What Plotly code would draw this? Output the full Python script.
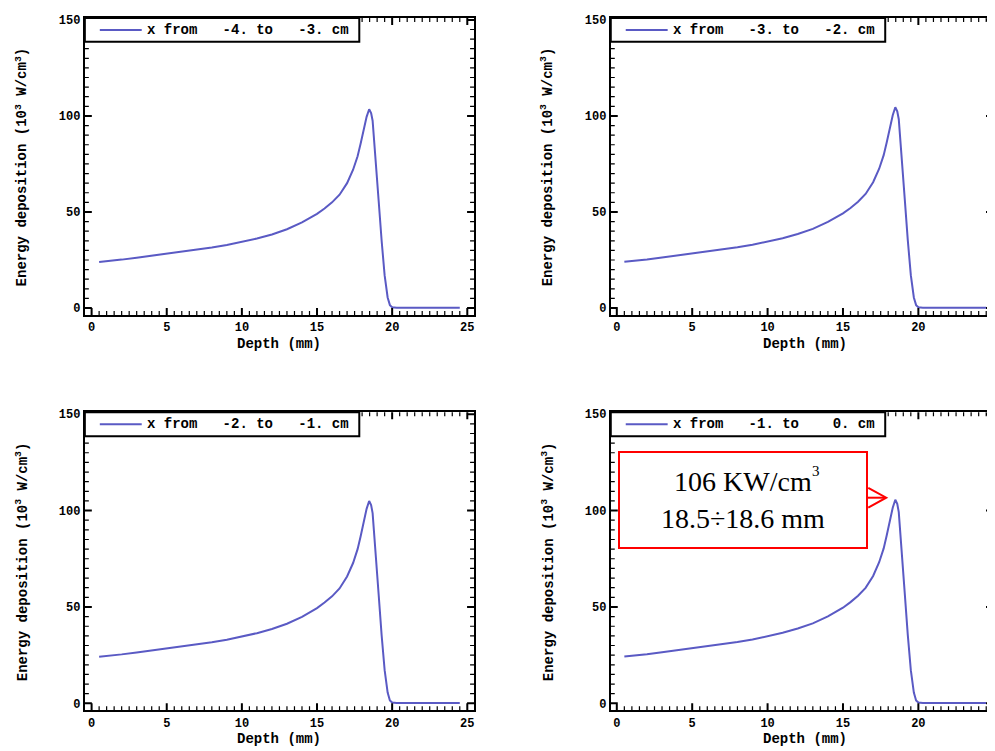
import math
import plotly.graph_objects as go

VIEW_W, VIEW_H = 995, 751
OFF = 8                      # default page body margin
W, H = VIEW_W - OFF, VIEW_H - OFF

depth_mm = [0.5, 1, 2, 3, 4, 5, 6, 7, 8, 9, 10, 11, 12, 13, 14, 15, 15.5, 16, 16.5, 17,
            17.4, 17.7, 17.9, 18.1, 18.3, 18.47, 18.6, 18.7, 18.9, 19.1, 19.3, 19.5, 19.7,
            19.85, 20.0, 20.3, 21, 22, 23, 24, 24.5]

energy_m4_m3 = [24.0, 24.3, 25.2, 26.2, 27.2, 28.2, 29.3, 30.4, 31.5, 32.8, 34.4, 36.2, 38.3,
                41.0, 44.6, 49.0, 51.8, 55.0, 59.0, 65.0, 72.0, 79.0, 85.5, 93.0, 99.5, 103.5,
                101.5, 97.5, 79.0, 56.0, 35.0, 17.0, 5.5, 1.5, 0.4, 0.2, 0.2, 0.2, 0.2, 0.2, 0.2]
energy_m3_m2 = [24.1, 24.4, 25.3, 26.3, 27.3, 28.3, 29.4, 30.5, 31.6, 32.9, 34.5, 36.3, 38.5,
                41.2, 44.8, 49.3, 52.1, 55.3, 59.4, 65.5, 72.5, 79.6, 86.2, 93.8, 100.4, 104.5,
                102.4, 98.3, 79.6, 56.4, 35.2, 17.1, 5.5, 1.5, 0.4, 0.2, 0.2, 0.2, 0.2, 0.2, 0.2]
energy_m2_m1 = [24.2, 24.5, 25.4, 26.4, 27.4, 28.4, 29.5, 30.6, 31.7, 33.0, 34.6, 36.4, 38.6,
                41.3, 44.9, 49.4, 52.3, 55.5, 59.6, 65.8, 72.8, 80.0, 86.6, 94.2, 100.9, 105.0,
                102.9, 98.7, 79.9, 56.6, 35.3, 17.2, 5.6, 1.5, 0.4, 0.2, 0.2, 0.2, 0.2, 0.2, 0.2]
energy_m1_0 = [24.3, 24.6, 25.5, 26.5, 27.5, 28.5, 29.6, 30.7, 31.8, 33.1, 34.7, 36.6, 38.8,
               41.5, 45.1, 49.6, 52.5, 55.8, 59.9, 66.1, 73.2, 80.4, 87.1, 94.8, 101.5, 105.6,
               103.5, 99.2, 80.2, 56.8, 35.4, 17.2, 5.6, 1.5, 0.4, 0.2, 0.2, 0.2, 0.2, 0.2, 0.2]

series = [energy_m4_m3, energy_m3_m2, energy_m2_m1, energy_m1_0]
legend_labels = ["x from   -4. to   -3. cm",
                 "x from   -3. to   -2. cm",
                 "x from   -2. to   -1. cm",
                 "x from   -1. to    0. cm"]
x_title = "Depth (mm)"
y_title = "Energy deposition (10<sup>3</sup> W/cm<sup>3</sup>)"
x_major_step = 5
y_major_step = 50
minor_per_major = 10
peak_note = "106 KW/cm<br>18.5÷18.6 mm"


def fx(p):
    return (p - OFF) / W


def fy(p):
    return 1 - (p - OFF) / H


# panel frames in page pixels: (left, right, top, bottom); right None = page edge
frames = [(85, 475, 14, 313), (612, None, 14, 313), (85, 475, 411, 711), (612, None, 411, 711)]
xranges = [[-0.45, 25.45], [-0.4, 24.95], [-0.45, 25.45], [-0.4, 24.95]]
yrange = [-3.6, 151]

MONO = "Liberation Mono"
LINE_COLOR = "#5a5ac4"
TICK_COLOR = "black"

fig = go.Figure()

for i, vals in enumerate(series):
    n = "" if i == 0 else str(i + 1)
    fig.add_trace(go.Scatter(
        x=depth_mm, y=vals, mode="lines",
        name=legend_labels[i],
        line=dict(color=LINE_COLOR, width=2),
        xaxis="x" + n, yaxis="y" + n, showlegend=False,
    ))

common = dict(showline=True, linecolor="black", linewidth=2, mirror=True,
              ticks="", showgrid=False, zeroline=False, tickmode="linear", tick0=0,
              tickfont=dict(family=MONO, size=12, color="black", weight="bold"))

axes = {}
for i, (l, r, t, b) in enumerate(frames):
    n = "" if i == 0 else str(i + 1)
    xd = [fx(l), 1.0 if r is None else fx(r)]
    yd = [fy(b), fy(t)]
    axes["xaxis" + n] = dict(common, domain=xd, range=xranges[i], anchor="y" + n,
                             dtick=x_major_step)
    axes["yaxis" + n] = dict(common, domain=yd, range=yrange, anchor="x" + n,
                             dtick=y_major_step)

fig.update_layout(width=W, height=H, margin=dict(l=0, r=0, t=0, b=0),
                  plot_bgcolor="white", paper_bgcolor="white", showlegend=False, **axes)


def tick_paths(l, r, t, b, xr, yr):
    """Inside tick marks on all four sides, following the axis scales."""
    R = VIEW_W if r is None else r
    major, minor = [], []
    xs = x_major_step / minor_per_major
    for k in range(math.ceil(xr[0] / xs), math.floor(xr[1] / xs) + 1):
        X = l + (k * xs - xr[0]) / (xr[1] - xr[0]) * (R - l)
        ln = 7 if k % minor_per_major == 0 else 4
        seg = (f"M{fx(X):.5f},{fy(b):.5f} L{fx(X):.5f},{fy(b - ln):.5f} "
               f"M{fx(X):.5f},{fy(t):.5f} L{fx(X):.5f},{fy(t + ln):.5f} ")
        (major if ln == 7 else minor).append(seg)
    ys = y_major_step / minor_per_major
    for k in range(math.ceil(yr[0] / ys), math.floor(yr[1] / ys) + 1):
        Y = b - (k * ys - yr[0]) / (yr[1] - yr[0]) * (b - t)
        ln = 7 if k % minor_per_major == 0 else 4
        seg = (f"M{fx(l):.5f},{fy(Y):.5f} L{fx(l + ln):.5f},{fy(Y):.5f} "
               f"M{fx(R):.5f},{fy(Y):.5f} L{fx(R - ln):.5f},{fy(Y):.5f} ")
        (major if ln == 7 else minor).append(seg)
    return "".join(major).strip(), "".join(minor).strip()


for i, (l, r, t, b) in enumerate(frames):
    yd = [fy(b), fy(t)]
    pmaj, pmin = tick_paths(l, r, t, b, xranges[i], yrange)
    fig.add_shape(type="path", xref="paper", yref="paper", path=pmin,
                  line=dict(color=TICK_COLOR, width=1.2))
    fig.add_shape(type="path", xref="paper", yref="paper", path=pmaj,
                  line=dict(color=TICK_COLOR, width=2))
    # compact key box
    fig.add_shape(type="rect", xref="paper", yref="paper",
                  x0=fx(l), x1=fx(l + 275), y0=fy(t), y1=fy(t + 24),
                  fillcolor="white", line=dict(color="black", width=2))
    fig.add_shape(type="line", xref="paper", yref="paper",
                  x0=fx(l + 15), x1=fx(l + 57), y0=fy(t + 12), y1=fy(t + 12),
                  line=dict(color=LINE_COLOR, width=2))
    fig.add_annotation(text=legend_labels[i].replace(" ", "\u00a0"),
                       x=fx(l + 60), y=fy(t + 12), xref="paper", yref="paper",
                       xanchor="left", yanchor="middle", showarrow=False,
                       font=dict(family=MONO, size=14, color="black", weight="bold"))
    # axis titles
    fig.add_annotation(text=x_title, x=fx(l + 195), y=fy(b + 29), xref="paper", yref="paper",
                       xanchor="center", yanchor="middle", showarrow=False,
                       font=dict(family=MONO, size=14, color="black", weight="bold"))
    fig.add_annotation(text=y_title, x=fx(l - 63), y=(yd[0] + yd[1]) / 2,
                       xref="paper", yref="paper", xanchor="center", yanchor="middle",
                       showarrow=False, textangle=-90,
                       font=dict(family=MONO, size=14, color="black", weight="bold"))

# peak callout on the last panel
fig.add_annotation(text=peak_note, x=fx(744), y=fy(499), xref="paper", yref="paper",
                   xanchor="center", yanchor="middle", showarrow=False,
                   width=246, height=94, align="center", valign="middle",
                   bgcolor="white", bordercolor="#ff0000", borderwidth=2, borderpad=0,
                   font=dict(family="Liberation Serif", size=28, color="black"))
fig.add_annotation(text="3", x=fx(818), y=fy(470), xref="paper", yref="paper",
                   xanchor="center", yanchor="middle", showarrow=False,
                   font=dict(family="Liberation Serif", size=15, color="black"))
fig.add_shape(type="path", xref="paper", yref="paper",
              path=f"M{fx(870)},{fy(487)} L{fx(888)},{fy(497)} L{fx(870)},{fy(507)}",
              line=dict(color="#ff0000", width=2))
fig.add_shape(type="line", xref="paper", yref="paper",
              x0=fx(869), y0=fy(497), x1=fx(886), y1=fy(497),
              line=dict(color="#ff0000", width=2))

fig.write_html("out.html")
